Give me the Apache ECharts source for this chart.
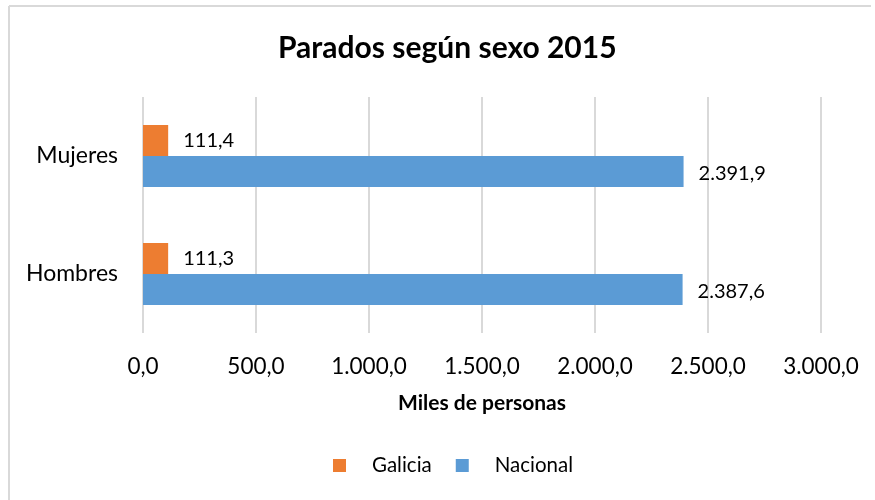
<!DOCTYPE html>
<html>
<head>
<meta charset="utf-8">
<script src="https://cdn.jsdelivr.net/npm/echarts@6/dist/echarts.min.js"></script>
<style>
  html, body { margin: 0; padding: 0; background: #fff; }
  #chart { width: 875px; height: 500px; }
</style>
</head>
<body>
<div id="chart"></div>
<script>
const categories = ['Hombres', 'Mujeres']
const galicia = [111.3, 111.4]
const nacional = [2387.6, 2391.9]
const xTicks = { min: 0, max: 3000, interval: 500 }

const fontFamily = 'Lato, sans-serif'

// formato español: punto de miles, coma decimal
const fmt = (v) => {
  const [i, d] = Number(v).toFixed(1).split('.')
  return i.replace(/\B(?=(\d{3})+(?!\d))/g, '.') + ',' + d
}

const chart = echarts.init(document.getElementById('chart'))

const option = {
  backgroundColor: '#fff',
  textStyle: { fontFamily },
  title: {
    text: 'Parados según sexo 2015',
    left: 273,
    top: 28,
    textStyle: { fontSize: 30, fontWeight: 'bold', color: '#000', fontFamily }
  },
  graphic: [
    { type: 'line', shape: { x1: 9, y1: 6, x2: 871, y2: 6 }, style: { stroke: '#d9d9d9', lineWidth: 2 } },
    { type: 'line', shape: { x1: 9, y1: 6, x2: 9, y2: 500 }, style: { stroke: '#d9d9d9', lineWidth: 2 } }
  ],
  legend: {
    data: ['Galicia', 'Nacional'],
    bottom: 19,
    left: 328,
    icon: 'rect',
    itemWidth: 13,
    itemHeight: 13,
    itemGap: 24,
    textStyle: { fontSize: 20.5, color: '#000', padding: [0, 0, 0, 21] }
  },
  grid: { left: 143, right: 54, top: 97, bottom: 167, containLabel: false },
  xAxis: {
    type: 'value',
    min: xTicks.min,
    max: xTicks.max,
    interval: xTicks.interval,
    name: 'Miles de personas',
    nameLocation: 'middle',
    nameGap: 60,
    nameTextStyle: { fontSize: 21, fontWeight: 'bold', color: '#000' },
    axisLine: { show: false },
    axisTick: { show: false },
    axisLabel: { fontSize: 22.5, color: '#000', margin: 22, formatter: fmt },
    splitLine: { show: true, lineStyle: { color: '#d9d9d9', width: 2 } }
  },
  yAxis: {
    type: 'category',
    data: categories,
    axisLine: { show: false },
    axisTick: { show: false },
    axisLabel: { fontSize: 23, color: '#000', margin: 25 }
  },
  series: [
    {
      name: 'Galicia',
      type: 'bar',
      data: galicia,
      barWidth: 31,
      barGap: '0%',
      itemStyle: { color: '#ED7D31' },
      label: { show: true, position: 'right', distance: 15, fontSize: 20, color: '#000', formatter: (p) => fmt(p.value) }
    },
    {
      name: 'Nacional',
      type: 'bar',
      data: nacional,
      barWidth: 31,
      barGap: '0%',
      itemStyle: { color: '#5B9BD5' },
      label: { show: true, position: 'right', distance: 15, offset: [0, 2], fontSize: 20, color: '#000', formatter: (p) => fmt(p.value) }
    }
  ]
}

chart.setOption(option)
</script>
</body>
</html>
